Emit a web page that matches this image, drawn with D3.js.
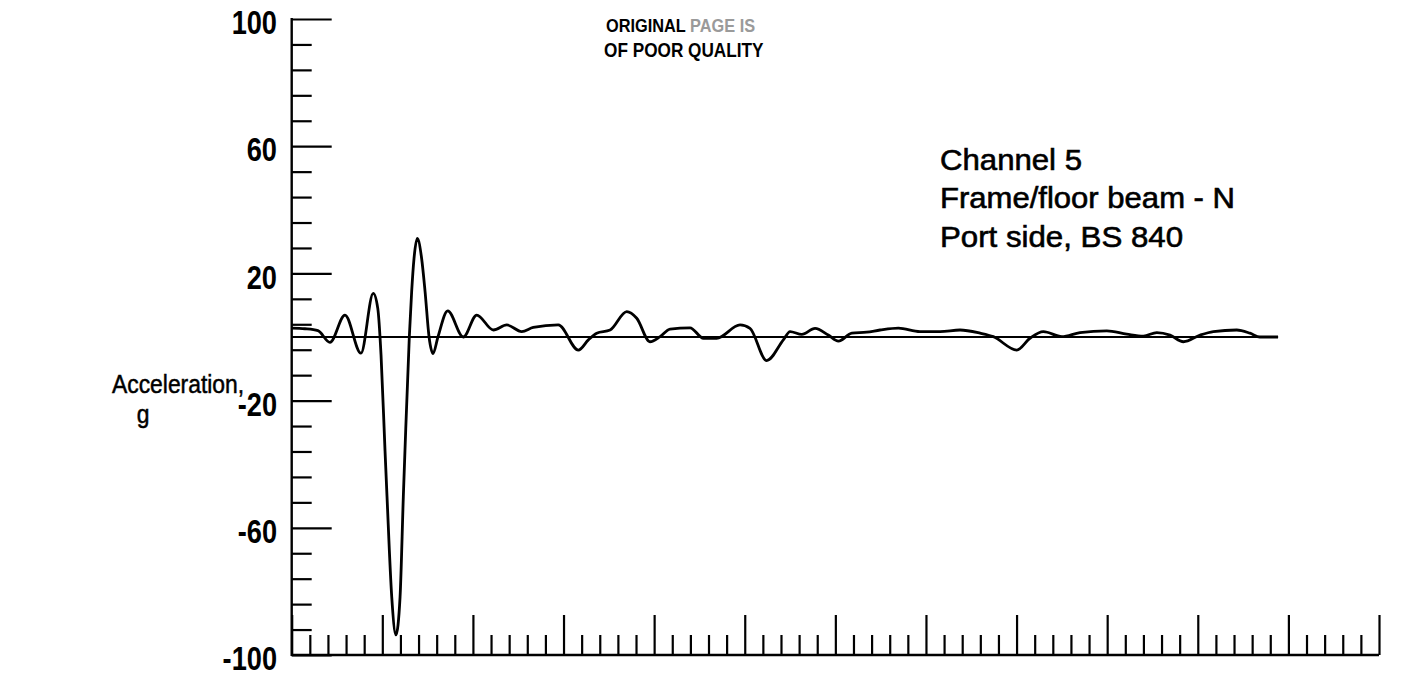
<!DOCTYPE html>
<html>
<head>
<meta charset="utf-8">
<script src="https://cdn.jsdelivr.net/npm/d3@7"></script>
<style>
  html, body { margin: 0; padding: 0; background: #fff; }
  svg { display: block; }
</style>
</head>
<body>
<svg id="chart" width="1401" height="679"></svg>
<script>
// Channel 5 acceleration trace, time in ms, acceleration in g
const timeMs = [0, 7.3, 14.5, 21.1, 29.4, 38.2, 45.0, 47.5, 49.3, 51.5, 52.6, 55.2, 57.5, 59.8, 61.6, 62.5,
  64.9, 66.2, 67.5, 69.3, 71.7, 73.6, 75.8, 78.0, 80.7, 86.1, 94.7, 102.1, 111.3, 118.7, 126.9, 133.3,
  147.1, 158.2, 163.7, 168.3, 175.7, 184.9, 190.4, 197.7, 203.3, 208.8, 219.8, 227.2, 234.5, 247.4,
  252.9, 262.1, 271.3, 275.0, 281.5, 288.8, 296.1, 301.7, 309.1, 317.3, 324.7, 334.8, 346.7, 357.8,
  368.8, 379.9, 387.2, 400.1, 407.4, 414.8, 425.0, 435.0, 449.8, 460.8, 470.0, 477.4, 484.7, 492.1,
  501.3, 508.6, 521.5, 528.8, 534.3, 544.3];
const accelG = [2.8, 2.6, 2.0, -1.7, 6.9, -5.1, 13.7, 9.0, -5.7, -35.8, -50.2, -81.7, -93.7, -81.7, -50.2, -35.8,
  0, 14.3, 24.7, 31, 24.7, 14.3, 0, -5.2, 0, 8.2, 0, 6.9, 2.2, 3.8, 1.7, 3.0,
  3.8, -4.1, -0.9, 1.2, 2.2, 8.0, 5.9, -1.5, 0.1, 2.5, 2.9, -0.4, -0.4, 3.8,
  2.7, -7.4, -0.9, 1.7, 0.8, 2.7, 0.6, -1.3, 1.2, 1.5, 2.2, 2.8, 1.7, 1.7,
  2.2, 1.2, 0.1, -4.1, -0.4, 1.7, 0.1, 1.4, 1.9, 0.9, 0.3, 1.4, 0.6, -1.5,
  0.6, 1.7, 2.2, 1.2, 0, 0];

// axis ticks
const yLabelValues = [100, 60, 20, -20, -60, -100];
const yTickValues = d3.range(-100, 101, 8);
const xTickValues = d3.range(0, 601, 10);
const xMajorStep = 50;

const titleLines = ["Channel 5", "Frame/floor beam - N", "Port side, BS 840"];

const svg = d3.select("#chart");

const x = d3.scaleLinear().domain([0, 600]).range([291.7, 1379]);
const y = d3.scaleLinear().domain([-100, 100]).range([655, 19]);

const ink = "#000";
const sans = "'Liberation Sans', Arial, sans-serif";

// y axis: ticks point into the plot
const yAxis = d3.axisRight(y)
  .tickValues(yTickValues)
  .tickSize(20)
  .tickFormat("");
const gy = svg.append("g").attr("transform", `translate(${x(0)},0)`).call(yAxis);
gy.select(".domain").remove();
gy.selectAll(".tick line")
  .attr("x2", d => yLabelValues.includes(d) ? 40 : 20)
  .attr("stroke", ink).attr("stroke-width", 2.2);
svg.append("line")
  .attr("x1", x(0)).attr("x2", x(0))
  .attr("y1", y(100) - 1).attr("y2", y(-100) + 1)
  .attr("stroke", ink).attr("stroke-width", 2.4);

// y labels, condensed bold
svg.append("g").selectAll("text")
  .data(yLabelValues)
  .join("text")
  .attr("transform", d => `translate(277,${y(d) + 3}) scale(0.8,1)`)
  .attr("dy", "0.358em")
  .attr("text-anchor", "end")
  .attr("font-family", sans)
  .attr("font-weight", "bold")
  .attr("font-size", 34)
  .attr("fill", ink)
  .text(d => d);

// x axis: unlabeled time ticks pointing up
const xAxis = d3.axisTop(x)
  .tickValues(xTickValues)
  .tickSize(20)
  .tickFormat("");
const gx = svg.append("g").attr("transform", `translate(0,${y(-100)})`).call(xAxis);
gx.select(".domain").remove();
gx.selectAll(".tick line")
  .attr("y2", d => d % xMajorStep === 0 ? -40 : -20)
  .attr("stroke", ink).attr("stroke-width", 2.2);
svg.append("line")
  .attr("x1", x(0)).attr("x2", x(600))
  .attr("y1", y(-100)).attr("y2", y(-100))
  .attr("stroke", ink).attr("stroke-width", 2.4);

// zero reference line
svg.append("line")
  .attr("x1", x(0)).attr("x2", x(timeMs[timeMs.length - 1]))
  .attr("y1", y(0)).attr("y2", y(0))
  .attr("stroke", ink).attr("stroke-width", 2);

// acceleration trace
const line = d3.line()
  .x((d, i) => x(timeMs[i]))
  .y(d => y(d))
  .curve(d3.curveMonotoneX);
svg.append("path")
  .datum(accelG)
  .attr("d", line)
  .attr("fill", "none")
  .attr("stroke", ink)
  .attr("stroke-width", 2.8)
  .attr("stroke-linejoin", "round");

// y axis title: two lines in one text element
const yTitle = svg.append("text")
  .attr("transform", "translate(112,0) scale(0.88,1)")
  .attr("font-family", sans).attr("font-size", 26)
  .attr("fill", ink).attr("stroke", ink).attr("stroke-width", 0.5);
yTitle.append("tspan").attr("x", 0).attr("y", 393).text("Acceleration,");
yTitle.append("tspan").attr("x", (143 - 112) / 0.88).attr("y", 423)
  .attr("text-anchor", "middle").text("g");

// channel annotation
const noteWidths = [142, 295, 243];
svg.append("g").selectAll("text")
  .data(titleLines)
  .join("text")
  .attr("x", 940)
  .attr("y", (d, i) => 170 + i * 38.3)
  .attr("textLength", (d, i) => noteWidths[i])
  .attr("lengthAdjust", "spacingAndGlyphs")
  .attr("font-family", sans)
  .attr("font-size", 29)
  .attr("fill", ink).attr("stroke", ink).attr("stroke-width", 0.6)
  .text(d => d);

// stamp at the top, one text element with two lines
const stamp = svg.append("text")
  .attr("transform", "translate(606,0) scale(0.86,1)")
  .attr("font-family", sans)
  .attr("font-weight", "bold")
  .attr("font-size", 19)
  .attr("fill", ink);
const l1 = stamp.append("tspan").attr("x", 0).attr("y", 32);
l1.append("tspan").text("ORIGINAL ");
l1.append("tspan").attr("fill", "#9a9a9a").text("PAGE IS");
stamp.append("tspan").attr("x", -2.3).attr("y", 57)
  .attr("font-size", 20).text("OF POOR QUALITY");
</script>
</body>
</html>
